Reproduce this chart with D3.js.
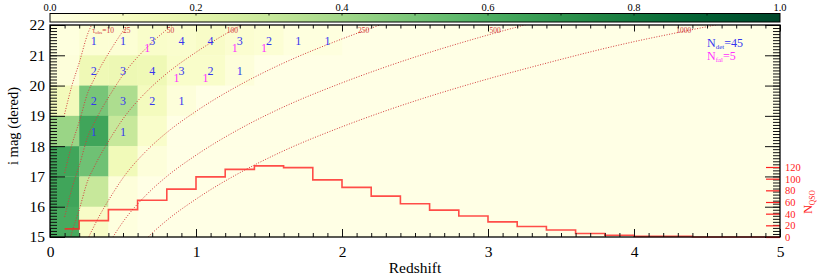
<!DOCTYPE html>
<html>
<head>
<meta charset="utf-8">
<script src="https://cdn.jsdelivr.net/npm/d3@7"></script>
<style>
  body { margin: 0; background: #fff; }
  svg text { font-family: "Liberation Serif", "Times New Roman", "DejaVu Serif", serif !important; }
</style>
</head>
<body>
<svg id="chart" width="830" height="277"></svg>
<script>
// heat map cells: left edge of each redshift bin (width 0.2), lower edge of each mag bin (height 1)
const cellZ = [0.0, 0.2, 0.4, 0.6, 0.8, 1.0, 1.2, 1.4, 1.6, 1.8]
const cellMag = [21, 20, 19, 18, 17, 16, 15]
const fraction = [
  [0.02, 0.05, 0.05, 0.08, 0.07, 0.09, 0.06, 0.05, 0.02, 0.02],
  [0.03, 0.15, 0.16, 0.15, 0.08, 0.08, 0.03, 0, 0, 0],
  [0.13, 0.50, 0.37, 0.12, 0.03, 0, 0, 0, 0, 0],
  [0.42, 0.64, 0.30, 0.08, 0, 0, 0, 0, 0, 0],
  [0.64, 0.52, 0.14, 0.03, 0, 0, 0, 0, 0, 0],
  [0.64, 0.30, 0.03, 0, 0, 0, 0, 0, 0, 0],
  [0.62, 0.09, 0.02, 0, 0, 0, 0, 0, 0, 0]
]
const nDet = [
  [0, 1, 1, 3, 4, 4, 3, 2, 1, 1],
  [0, 2, 3, 4, 3, 2, 1, 0, 0, 0],
  [0, 2, 3, 2, 1, 0, 0, 0, 0, 0],
  [0, 1, 1, 0, 0, 0, 0, 0, 0, 0],
  [0, 0, 0, 0, 0, 0, 0, 0, 0, 0],
  [0, 0, 0, 0, 0, 0, 0, 0, 0, 0],
  [0, 0, 0, 0, 0, 0, 0, 0, 0, 0]
]
const nFal = [
  [0, 0, 0, 1, 0, 0, 1, 1, 0, 0],
  [0, 0, 0, 0, 1, 1, 0, 0, 0, 0],
  [0, 0, 0, 0, 0, 0, 0, 0, 0, 0],
  [0, 0, 0, 0, 0, 0, 0, 0, 0, 0],
  [0, 0, 0, 0, 0, 0, 0, 0, 0, 0],
  [0, 0, 0, 0, 0, 0, 0, 0, 0, 0],
  [0, 0, 0, 0, 0, 0, 0, 0, 0, 0]
]

// QSO redshift histogram
const histEdges = [0.1, 0.2, 0.4, 0.6, 0.8, 1.0, 1.2, 1.4, 1.6, 1.8, 2.0, 2.2, 2.4, 2.6, 2.8,
  3.0, 3.2, 3.4, 3.6, 3.8, 4.0, 4.2, 4.4, 4.6, 4.8, 5.0]
const histCounts = [14, 28, 47, 63, 82, 103, 116, 122, 119, 98, 85, 70, 57, 46, 36,
  26, 18, 12, 6, 3, 1, 1, 0, 0, 0]

// constant tau_obs curves, [redshift, i mag]
const tauValues = [10, 25, 50, 100, 250, 500, 1000]
const tau10 = [[0.1, 19.06], [0.15, 20.0], [0.2, 20.75], [0.26, 21.73], [0.3, 22.14]]
const tau25 = [[0.1, 17.11], [0.15, 18.05], [0.2, 18.8], [0.26, 19.78], [0.3, 20.19], [0.43, 21.29],
  [0.5, 21.8], [0.67, 22.74]]
const tau50 = [[0.1, 15.66], [0.15, 16.6], [0.2, 17.35], [0.26, 18.33], [0.3, 18.74], [0.43, 19.84],
  [0.5, 20.35], [0.67, 21.29], [0.8, 21.85], [1.0, 22.55]]
const tau100 = [[0.1, 14.21], [0.15, 15.15], [0.2, 15.9], [0.26, 16.88], [0.3, 17.29], [0.43, 18.39],
  [0.5, 18.9], [0.67, 19.84], [0.8, 20.4], [1.0, 21.1], [1.33, 22.05]]
const tau250 = [[0.15, 13.2], [0.2, 13.95], [0.26, 14.93], [0.3, 15.34], [0.43, 16.44], [0.5, 16.95],
  [0.67, 17.89], [0.8, 18.45], [1.0, 19.15], [1.33, 20.1], [1.58, 20.7], [2.0, 21.54], [2.26, 22.0]]
const tau500 = [[0.26, 13.48], [0.3, 13.89], [0.43, 14.99], [0.5, 15.5], [0.67, 16.44], [0.8, 17.0],
  [1.0, 17.7], [1.33, 18.65], [1.58, 19.25], [2.0, 20.09], [2.26, 20.55], [3.0, 21.67], [3.29, 22.05]]
const tau1000 = [[0.43, 13.54], [0.5, 14.05], [0.67, 14.99], [0.8, 15.55], [1.0, 16.25], [1.33, 17.2],
  [1.58, 17.8], [2.0, 18.64], [2.26, 19.1], [3.0, 20.22], [3.29, 20.6], [4.0, 21.45], [4.32, 21.77], [4.75, 22.18]]
const tauCurves = [tau10, tau25, tau50, tau100, tau250, tau500, tau1000]
// redshift where each curve label starts
const tauLabelZ = [0.29, 0.5, 0.8, 1.21, 2.11, 3.01, 4.29]

const cbTicks = [0.0, 0.2, 0.4, 0.6, 0.8, 1.0]
const nTicks = [0, 20, 40, 60, 80, 100, 120]

const serif = '"Liberation Serif", "Times New Roman", serif'
const svg = d3.select('#chart').attr('font-family', serif)
const x = d3.scaleLinear().domain([0, 5]).range([50, 780])
const y = d3.scaleLinear().domain([15, 22]).range([237, 25])
const yN = d3.scaleLinear().domain([0, 120]).range([237, 167])
const color = d3.scaleSequential(d3.interpolateYlGn).domain([0, 1])

const blue = '#3535f0'
const magenta = '#ff30ff'
const red = '#ff2020'
const curveRed = '#d23a3a'

const defs = svg.append('defs')
defs.append('clipPath').attr('id', 'plotclip')
  .append('rect').attr('x', 50).attr('y', 25).attr('width', 730).attr('height', 212)

// colour bar
const grad = defs.append('linearGradient').attr('id', 'cbgrad')
d3.range(0, 1.001, 0.05).forEach(function (t) {
  grad.append('stop').attr('offset', t).attr('stop-color', color(t))
})
const cbx = d3.scaleLinear().domain([0, 1]).range([50, 780])
svg.append('rect').attr('x', cbx(0)).attr('y', 13.5).attr('width', cbx(1) - cbx(0)).attr('height', 8.5)
  .attr('fill', 'url(#cbgrad)').attr('stroke', '#000').attr('stroke-width', 1)
svg.append('g').selectAll('line').data(d3.range(0.1, 1, 0.1)).enter().append('line')
  .attr('x1', d => cbx(d)).attr('x2', d => cbx(d)).attr('y1', 13.5).attr('y2', 15.5)
  .attr('stroke', '#000').attr('stroke-width', 0.8)
svg.append('g').selectAll('text').data(cbTicks).enter().append('text')
  .attr('x', d => cbx(d)).attr('y', 10.5).attr('text-anchor', 'middle')
  .attr('font-size', 10.5).text(d => d.toFixed(1))

// background + cells
const plot = svg.append('g')
plot.append('rect').attr('x', 50).attr('y', 25).attr('width', 730).attr('height', 212).attr('fill', color(0))
const cells = []
cellMag.forEach(function (m, r) {
  cellZ.forEach(function (z, c) {
    cells.push({ z: z, m: m, f: fraction[r][c], det: nDet[r][c], fal: nFal[r][c] })
  })
})
plot.selectAll('rect.cell').data(cells).enter().append('rect').attr('class', 'cell')
  .attr('x', d => x(d.z)).attr('y', d => y(d.m + 1))
  .attr('width', x(0.2) - x(0) + 0.3).attr('height', y(15) - y(16) + 0.3)
  .attr('fill', d => color(d.f))

// tau curves
const line = d3.line().x(d => x(d[0])).y(d => y(d[1])).curve(d3.curveMonotoneX)
const cg = svg.append('g').attr('clip-path', 'url(#plotclip)')
cg.selectAll('path').data(tauCurves).enter().append('path')
  .attr('d', line).attr('fill', 'none').attr('stroke', curveRed)
  .attr('stroke-width', 1).attr('stroke-dasharray', '1,1.6')

tauValues.forEach(function (v, i) {
  const t = svg.append('text').attr('x', x(tauLabelZ[i])).attr('y', 33)
    .attr('font-size', 7.5).attr('fill', curveRed)
  if (i === 0) {
    t.append('tspan').text('\u03c4')
    t.append('tspan').attr('font-size', 5).attr('dy', 1.2).text('obs')
    t.append('tspan').attr('dy', -1.2).text('=' + v)
  } else {
    t.text(v)
  }
})

// counts in cells
const withDet = cells.filter(d => d.det > 0)
svg.append('g').selectAll('text').data(withDet).enter().append('text')
  .attr('x', d => x(d.z + 0.1)).attr('y', d => y(d.m + 0.5) + 4.5)
  .attr('text-anchor', 'middle').attr('font-size', 12).attr('fill', blue).text(d => d.det)
const withFal = cells.filter(d => d.fal > 0)
svg.append('g').selectAll('text').data(withFal).enter().append('text')
  .attr('x', d => x(d.z + 0.1) - 5).attr('y', d => y(d.m + 0.5) + 12)
  .attr('text-anchor', 'middle').attr('font-size', 12).attr('fill', magenta).text(d => d.fal)

// histogram
const histPts = histEdges.map((e, i) => [e, histCounts[Math.min(i, histCounts.length - 1)]])
svg.append('path').datum(histPts)
  .attr('d', d3.line().x(d => x(d[0])).y(d => yN(d[1])).curve(d3.curveStepAfter))
  .attr('fill', 'none').attr('stroke', red).attr('stroke-opacity', 0.8).attr('stroke-width', 1.6)

// axes
function ticksOnly(g, axis) { g.call(axis); g.select('.domain').remove() }
const minorZ = d3.range(0, 5.001, 0.1)
const minorM = d3.range(15, 22.001, 0.1)
const intZ = [0, 1, 2, 3, 4, 5]
const intM = [15, 16, 17, 18, 19, 20, 21, 22]

const axes = svg.append('g').attr('stroke-width', 1)
axes.append('g').attr('transform', 'translate(0,237)')
  .call(g => ticksOnly(g, d3.axisBottom(x).tickValues(minorZ).tickSize(-4).tickFormat('')))
axes.append('g').attr('transform', 'translate(0,237)')
  .call(g => ticksOnly(g, d3.axisBottom(x).tickValues(intZ).tickSize(-8).tickFormat('')))
axes.append('g').attr('transform', 'translate(0,237)')
  .call(g => ticksOnly(g, d3.axisBottom(x).tickValues(intZ).tickSize(0).tickPadding(9).tickFormat(d3.format('d'))))
axes.append('g').attr('transform', 'translate(0,25)')
  .call(g => ticksOnly(g, d3.axisTop(x).tickValues(minorZ).tickSize(-3.5).tickFormat('')))
axes.append('g').attr('transform', 'translate(0,25)')
  .call(g => ticksOnly(g, d3.axisTop(x).tickValues(intZ).tickSize(-6.5).tickFormat('')))
axes.append('g').attr('transform', 'translate(50,0)')
  .call(g => ticksOnly(g, d3.axisLeft(y).tickValues(minorM).tickSize(-7).tickFormat('')))
axes.append('g').attr('transform', 'translate(50,0)')
  .call(g => ticksOnly(g, d3.axisLeft(y).tickValues(intM).tickSize(-15).tickFormat('')))
axes.append('g').attr('transform', 'translate(50,0)')
  .call(g => ticksOnly(g, d3.axisLeft(y).tickValues(intM).tickSize(0).tickPadding(5).tickFormat(d3.format('d'))))
axes.append('g').attr('transform', 'translate(780,0)')
  .call(g => ticksOnly(g, d3.axisRight(y).tickValues(minorM).tickSize(-7).tickFormat('')))
axes.append('g').attr('transform', 'translate(780,0)')
  .call(g => ticksOnly(g, d3.axisRight(y).tickValues(intM).tickSize(-15).tickFormat('')))
axes.selectAll('g').attr('font-family', serif)
axes.selectAll('text').attr('font-size', 15.5).attr('font-family', serif).attr('fill', '#000')
axes.selectAll('line').attr('stroke', '#111')

// right N_QSO axis
const nAxis = svg.append('g').attr('transform', 'translate(780,0)')
nAxis.call(g => ticksOnly(g, d3.axisRight(yN).tickValues(nTicks).tickSize(-14).tickFormat(d3.format('d'))))
nAxis.attr('font-family', serif)
nAxis.selectAll('line').attr('stroke', red).attr('stroke-width', 1.2)
nAxis.selectAll('text').attr('fill', red).attr('font-size', 10.5)
  .attr('font-family', serif).attr('x', 5)

// frame
svg.append('rect').attr('x', 50).attr('y', 25).attr('width', 730).attr('height', 212)
  .attr('fill', 'none').attr('stroke', '#000').attr('stroke-width', 1.3)

// titles
svg.append('text').attr('x', 415).attr('y', 273).attr('text-anchor', 'middle')
  .attr('font-size', 15.5).text('Redshift')
svg.append('text').attr('transform', 'translate(18,126) rotate(-90)').attr('text-anchor', 'middle')
  .attr('font-size', 14.5).text('i mag (dered)')
const nt = svg.append('text').attr('transform', 'translate(812,202) rotate(-90)')
  .attr('text-anchor', 'middle').attr('font-size', 12).attr('fill', red)
nt.append('tspan').text('N')
nt.append('tspan').attr('font-size', 7.5).attr('dy', 3).text('QSO')

// legend
const legendKeys = ['det', 'fal']
const legendCounts = [45, 5]
const legendColors = [blue, magenta]
legendKeys.forEach(function (k, i) {
  const t = svg.append('text').attr('x', 707).attr('y', 47 + i * 13).attr('font-size', 12).attr('fill', legendColors[i])
  t.append('tspan').text('N')
  t.append('tspan').attr('font-size', 7).attr('dy', 2).text(k)
  t.append('tspan').attr('dy', -2).text('=' + legendCounts[i])
})
</script>
</body>
</html>
